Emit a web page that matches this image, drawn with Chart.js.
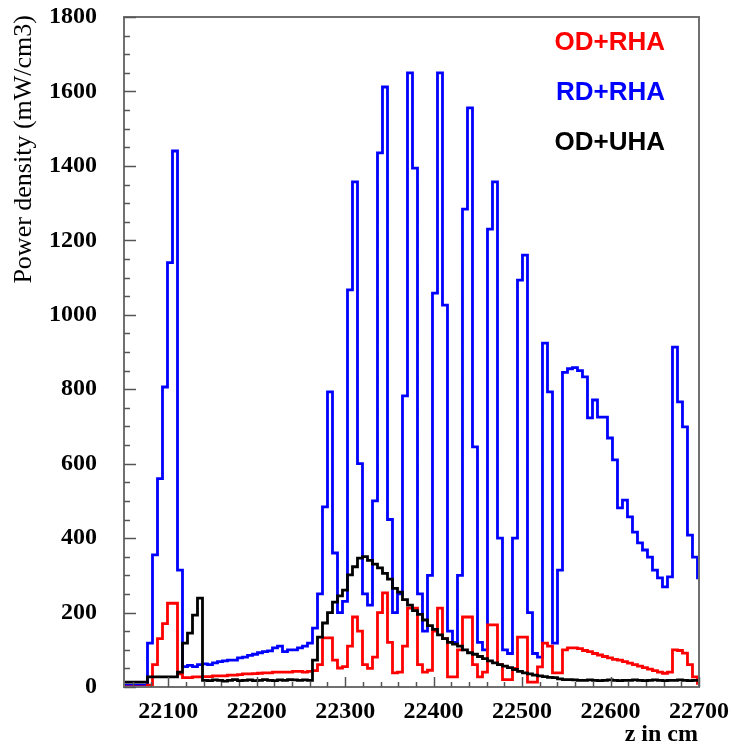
<!DOCTYPE html>
<html><head><meta charset="utf-8">
<script src="https://cdn.jsdelivr.net/npm/chart.js@4/dist/chart.umd.min.js"></script>
<style>html,body{margin:0;padding:0;background:#fff;}#wrap{width:733px;height:751px;position:relative;}</style>
</head><body><div id="wrap"><canvas id="c" width="733" height="751"></canvas></div>
<script>
// Histogram binning (lower edge of first bin, bin width in cm)
const zStart = 22048.3;
const binWidth = 5.652;

const seriesNames = ['OD+RHA', 'RD+RHA', 'OD+UHA'];

const odRha = [0,0,0,0,0,5,60,130,170,225,225,35,
  25,25,27,27,28,28,30,30,30,32,32,33,35,35,36,37,38,38,40,40,40,40,42,42,
  40,42,44,60,132,132,72,51,55,110,188,150,60,50,80,200,253,120,38,40,110,212,212,60,40,45,150,212,130,27,27,100,188,188,60,27,40,167,167,60,20,20,50,134,134,13,13,54,118,110,38,38,
  100,105,105,103,98,95,90,86,82,78,74,72,68,64,60,56,52,48,44,40,37,40,100,98,91,60,27,10];

const rdRha = [5,5,5,5,5,118,355,560,806,1140,1440,314,55,
  58,55,60,62,60,65,68,70,72,72,78,80,85,88,92,95,97,105,110,95,100,100,105,110,
  118,158,250,484,793,360,200,230,1067,1357,600,250,220,500,1435,1612,450,200,250,782,1650,1394,250,150,300,1058,1650,1026,150,120,300,1284,1556,645,120,100,1230,1357,400,100,90,400,1093,1160,200,90,80,924,793,118,314,
  845,855,858,850,833,723,771,725,725,669,610,481,502,457,416,387,368,349,314,293,269,296,913,766,699,408,349,293];

const odUha = [13,13,13,13,13,27,27,27,27,27,27,40,118,145,193,239,
  18,17,19,18,16,18,20,17,18,19,17,18,20,18,17,19,18,20,19,18,19,18,
  72,134,172,200,228,245,260,301,323,346,350,340,330,320,305,290,265,255,235,220,205,195,180,165,155,140,130,120,115,110,100,92,88,82,76,70,65,60,56,52,47,42,38,35,32,30,28,26,25,
  22,20,20,19,18,18,19,18,17,18,19,18,17,18,18,19,18,17,18,19,18,17,18,18,19,18,17,18,18];

const xTickValues = [22100, 22200, 22300, 22400, 22500, 22600, 22700];
const yTickValues = [0, 200, 400, 600, 800, 1000, 1200, 1400, 1600, 1800];
const xTitle = 'z in cm';
const yTitle = 'Power density (mW/cm3)';

function toSteps(values) {
  const pts = values.map((v, i) => ({ x: zStart + i * binWidth, y: v }));
  pts.push({ x: zStart + values.length * binWidth, y: values[values.length - 1] });
  return pts;
}

const framePlugin = {
  id: 'frameTicks',
  afterDatasetsDraw(chart) {
    const { ctx, chartArea: a, scales } = chart;
    ctx.save();
    ctx.strokeStyle = '#707070';
    ctx.lineWidth = 2;
    ctx.strokeRect(a.left, a.top, a.right - a.left, a.bottom - a.top);
    ctx.strokeStyle = '#555';
    ctx.lineWidth = 1.5;
    for (let v = 0; v <= 1800; v += 50) {
      const y = Math.round(scales.y.getPixelForValue(v)) + 0.5;
      const len = v % 200 === 0 ? 12 : 6;
      ctx.beginPath(); ctx.moveTo(a.left, y); ctx.lineTo(a.left + len, y); ctx.stroke();
    }
    for (let v = 22060; v <= 22700; v += 20) {
      const x = Math.round(scales.x.getPixelForValue(v)) + 0.5;
      const len = v % 100 === 0 ? 10 : 5;
      ctx.beginPath(); ctx.moveTo(x, a.bottom); ctx.lineTo(x, a.bottom - len); ctx.stroke();
    }
    ctx.font = 'bold 26px "Liberation Sans", Arial, sans-serif';
    ctx.textAlign = 'right';
    ctx.textBaseline = 'middle';
    const cols = ['#ff0000', '#0000ff', '#000000'];
    const ys = [43, 93, 143];
    seriesNames.forEach((n, i) => { ctx.fillStyle = cols[i]; ctx.fillText(n, 665, ys[i]); });
    ctx.fillStyle = '#000';
    ctx.font = 'bold 24px "Liberation Serif", "Times New Roman", serif';
    ctx.textAlign = 'right';
    ctx.textBaseline = 'alphabetic';
    ctx.fillText(xTitle, 698, 741);
    ctx.translate(31, 15);
    ctx.rotate(-Math.PI / 2);
    ctx.font = '26px "Liberation Serif", "Times New Roman", serif';
    ctx.textAlign = 'right';
    ctx.fillText(yTitle, 0, 0);
    ctx.restore();
  }
};

const tickFont = { family: '"Liberation Serif", "Times New Roman", serif', size: 24, weight: 'bold' };

new Chart(document.getElementById('c'), {
  type: 'line',
  data: {
    datasets: [
      { label: seriesNames[2], data: toSteps(odUha), borderColor: '#000000', order: 0 },
      { label: seriesNames[0], data: toSteps(odRha), borderColor: '#ff0000', order: 1 },
      { label: seriesNames[1], data: toSteps(rdRha), borderColor: '#0000ff', order: 2 }
    ]
  },
  options: {
    responsive: false,
    animation: false,
    events: [],
    elements: { point: { radius: 0 }, line: { borderWidth: 2.8, stepped: true, tension: 0 } },
    layout: { padding: { left: 0, top: 17, right: 34, bottom: 0 } },
    plugins: { legend: { display: false }, tooltip: { enabled: false } },
    scales: {
      x: {
        type: 'linear', min: 22050, max: 22700,
        afterBuildTicks: s => { s.ticks = xTickValues.map(v => ({ value: v })); },
        afterFit: s => { s.height = 64; s.paddingLeft = 0; s.paddingRight = 0; },
        grid: { display: false, drawTicks: false },
        border: { display: false },
        ticks: { padding: 10, maxRotation: 0, autoSkip: false, color: '#000', font: tickFont,
          callback: v => String(v) }
      },
      y: {
        type: 'linear', min: 0, max: 1800,
        afterBuildTicks: s => { s.ticks = yTickValues.map(v => ({ value: v })); },
        afterFit: s => { s.width = 124; s.paddingTop = 0; s.paddingBottom = 0; },
        grid: { display: false, drawTicks: false },
        border: { display: false },
        ticks: { padding: 27, color: '#000', font: tickFont, callback: v => String(v) }
      }
    }
  },
  plugins: [framePlugin]
});
</script></body></html>
